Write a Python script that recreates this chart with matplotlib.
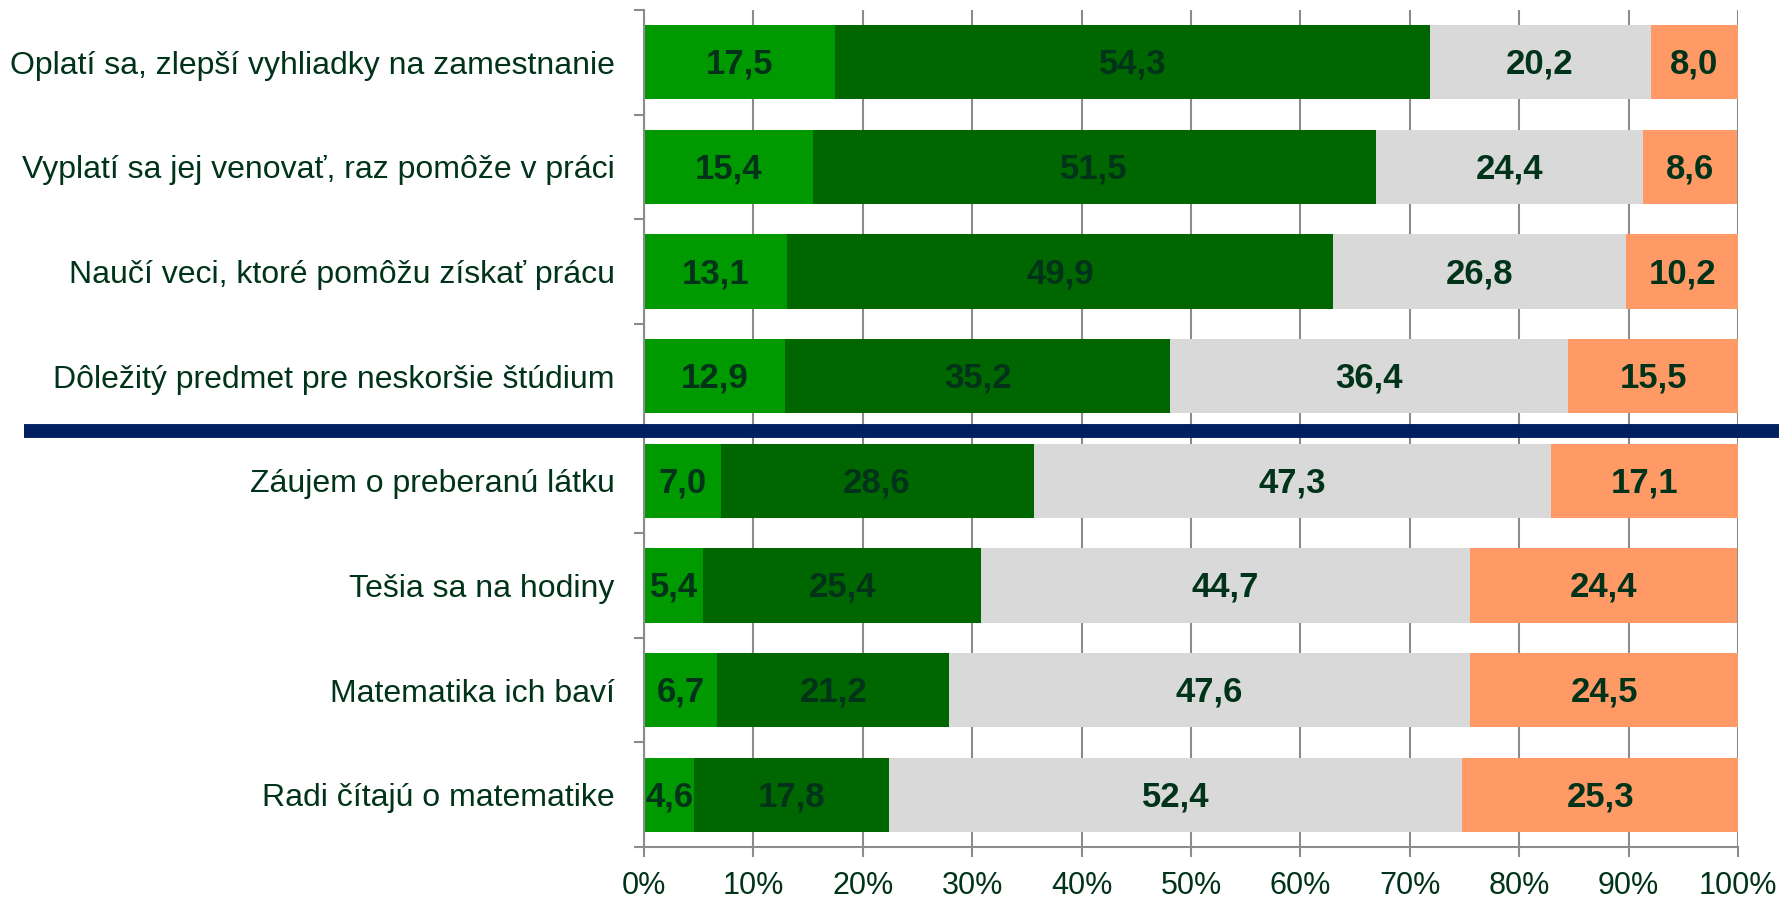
import matplotlib
matplotlib.use("Agg")
import matplotlib.pyplot as plt
from matplotlib.lines import Line2D
import numpy as np

plt.rcParams['font.family'] = ['Liberation Sans', 'DejaVu Sans']

categories = ["Oplatí sa, zlepší vyhliadky na zamestnanie",
              "Vyplatí sa jej venovať, raz pomôže v práci",
              "Naučí veci, ktoré pomôžu získať prácu",
              "Dôležitý predmet pre neskoršie štúdium",
              "Záujem o preberanú látku",
              "Tešia sa na hodiny",
              "Matematika ich baví",
              "Radi čítajú o matematike"]
s1 = [17.5, 15.4, 13.1, 12.9, 7.0, 5.4, 6.7, 4.6]
s2 = [54.3, 51.5, 49.9, 35.2, 28.6, 25.4, 21.2, 17.8]
s3 = [20.2, 24.4, 26.8, 36.4, 47.3, 44.7, 47.6, 52.4]
s4 = [8.0, 8.6, 10.2, 15.5, 17.1, 24.4, 24.5, 25.3]

colors = ["#009900", "#006600", "#D9D9D9", "#FF9966"]
txt = "#003319"
gridc = "#8C8C8C"

fig = plt.figure(figsize=(17.85, 9.02), dpi=100)
ax = fig.add_axes([0.3608, 0.061, 0.6129, 0.928])

y = np.arange(len(categories))
left = np.zeros(len(categories))
for vals, c in zip([s1, s2, s3, s4], colors):
    vals = np.array(vals)
    ax.barh(y, vals, left=left, height=0.71, color=c, zorder=2)
    for yi, l, v in zip(y, left, vals):
        ax.text(l + v / 2, yi + 0.02, f"{v:.1f}".replace(".", ","), ha="center", va="center",
                fontsize=25, fontweight="bold", color=txt, zorder=3)
    left = left + vals

ax.set_xlim(0, 100)
ax.set_ylim(len(categories) - 0.5, -0.5)
ax.set_xticks(np.arange(0, 101, 10))
ax.set_xticklabels([f"{v}%" for v in range(0, 101, 10)])
ax.set_yticks(y)
ax.set_yticklabels(categories)
ax.set_yticks(np.arange(-0.5, len(categories)), minor=True)
ax.tick_params(axis="y", which="major", length=0, pad=21, labelsize=23, labelcolor=txt)
ax.tick_params(axis="y", which="minor", length=7, width=1.5, color=gridc)
ax.tick_params(axis="x", length=7, width=1.5, color=gridc, pad=10, labelsize=22, labelcolor=txt)
ax.grid(axis="x", color=gridc, linewidth=1.5, zorder=0)
ax.set_axisbelow(True)
for side in ["top", "right"]:
    ax.spines[side].set_visible(False)
for side in ["left", "bottom"]:
    ax.spines[side].set_color(gridc)
    ax.spines[side].set_linewidth(1.5)

fig.add_artist(Line2D([0.0135, 0.9966], [0.522, 0.522], color="#002060", linewidth=10,
                      solid_capstyle="butt", transform=fig.transFigure, zorder=10))

fig.savefig("out.png", dpi=100)
